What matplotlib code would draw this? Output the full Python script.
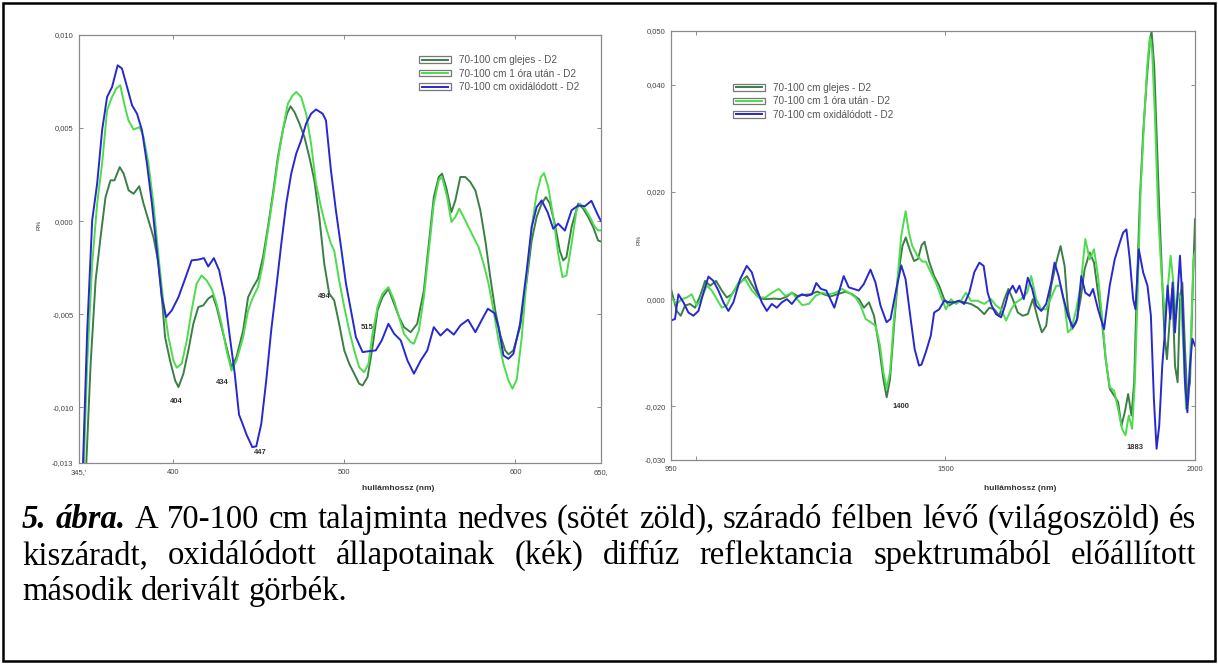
import matplotlib

matplotlib.use("Agg")
import matplotlib.pyplot as plt
from matplotlib.legend_handler import HandlerBase
from matplotlib.lines import Line2D
from matplotlib.patches import Rectangle

# ---- data: left panel (345-650 nm) ----
vis_blue_x = [347.0, 349.8, 352.7, 355.6, 358.5, 361.4, 364.3, 367.6, 370.1, 373.1, 376.0, 378.9, 381.8, 384.7,
              387.6, 390.5, 393.4, 395.9, 399.2, 403.1, 407.0, 410.8, 414.7, 418.0, 420.5, 423.8, 426.9, 430.2,
              433.1, 436.0, 438.5, 441.0, 443.0, 446.3, 448.6, 451.5, 454.4, 457.3, 460.3, 463.2, 466.1, 469.0,
              471.9, 474.8, 477.7, 480.6, 483.5, 487.4, 489.3, 492.2, 495.1, 498.1, 501.0, 503.9, 506.8, 510.7,
              514.5, 518.4, 521.9, 525.8, 529.1, 533.0, 536.9, 540.7, 544.6, 548.5, 552.3, 556.2, 560.1, 564.0,
              567.9, 572.3, 576.6, 580.4, 583.9, 587.8, 590.1, 593.0, 595.9, 598.8, 602.7, 606.6, 609.5, 612.4,
              615.3, 618.8, 622.1, 625.0, 628.9, 632.8, 636.7, 640.6, 644.4, 648.3, 650.0]
vis_blue_y = [-0.0140, -0.00588, 0.00004, 0.00201, 0.00488, 0.00667, 0.00720, 0.00837, 0.00820, 0.00720, 0.00622,
              0.00577, 0.00488, 0.00309, 0.00094, -0.00158, -0.00409, -0.00516, -0.00480, -0.00409, -0.00310,
              -0.00211, -0.00207, -0.00199, -0.00244, -0.00199, -0.00265, -0.00409, -0.00620, -0.00820, -0.01040,
              -0.01100, -0.01150, -0.01215, -0.01210, -0.01090, -0.00857, -0.00588, -0.00355, -0.00122, 0.00094,
              0.00255, 0.00362, 0.00434, 0.00524, 0.00577, 0.00600, 0.00577, 0.00541, 0.00273, 0.00058, -0.00140,
              -0.00337, -0.00480, -0.00624, -0.00704, -0.00699, -0.00695, -0.00641, -0.00552, -0.00605, -0.00641,
              -0.00749, -0.00820, -0.00750, -0.00695, -0.00570, -0.00615, -0.00580, -0.00610, -0.00560, -0.00530,
              -0.00597, -0.00530, -0.00471, -0.00495, -0.00570, -0.00722, -0.00740, -0.00713, -0.00552, -0.00265,
              -0.00032, 0.00075, 0.00111, 0.00048, -0.00041, -0.00014, -0.00051, 0.00058, 0.00084, 0.00080,
              0.00109, 0.00030, 0.00000]

vis_dark_x = [348.8, 351.8, 354.7, 357.6, 360.5, 363.4, 365.7, 368.8, 371.1, 374.0, 376.9, 380.2, 382.7, 385.6,
              388.5, 391.5, 393.4, 395.3, 398.2, 401.2, 403.1, 406.0, 408.9, 411.8, 414.7, 417.6, 420.5, 423.1,
              425.4, 428.3, 431.2, 434.1, 437.0, 440.9, 443.8, 446.7, 449.6, 452.5, 455.4, 458.3, 461.2, 464.1,
              466.5, 468.6, 470.9, 473.8, 476.7, 479.6, 482.5, 485.4, 488.3, 491.2, 494.1, 497.0, 500.0, 502.9,
              505.8, 508.7, 510.7, 513.6, 516.5, 519.4, 522.3, 525.8, 529.1, 532.0, 534.9, 538.8, 542.6, 546.5,
              549.4, 552.3, 555.2, 557.1, 559.5, 562.6, 564.9, 567.8, 570.7, 573.6, 576.6, 579.5, 582.4, 585.3,
              588.2, 591.1, 594.0, 595.9, 598.8, 602.7, 606.6, 609.5, 612.4, 615.3, 617.8, 620.1, 623.0, 625.9,
              627.9, 629.8, 632.8, 636.7, 639.6, 642.5, 645.4, 648.3, 650.0]
vis_dark_y = [-0.0140, -0.00767, -0.00319, -0.00086, 0.00129, 0.00219, 0.00219, 0.00290, 0.00255, 0.00165, 0.00147,
              0.00187, 0.00094, 0.00004, -0.00086, -0.00229, -0.00409, -0.00624, -0.00750, -0.00857, -0.00892,
              -0.00820, -0.00695, -0.00552, -0.00462, -0.00453, -0.00417, -0.00400, -0.00462, -0.00570, -0.00677,
              -0.00785, -0.00731, -0.00588, -0.00409, -0.00355, -0.00310, -0.00194, -0.00032, 0.00147, 0.00344,
              0.00488, 0.00577, 0.00617, 0.00586, 0.00524, 0.00452, 0.00344, 0.00219, 0.00022, -0.00229, -0.00390,
              -0.00426, -0.00552, -0.00695, -0.00767, -0.00820, -0.00874, -0.00883, -0.00838, -0.00677, -0.00480,
              -0.00409, -0.00364, -0.00444, -0.00516, -0.00570, -0.00597, -0.00552, -0.00373, -0.00122, 0.00129,
              0.00237, 0.00255, 0.00183, 0.00048, 0.00111, 0.00237, 0.00237, 0.00210, 0.00165, 0.00058, -0.00104,
              -0.00301, -0.00480, -0.00610, -0.00695, -0.00716, -0.00695, -0.00570, -0.00319, -0.00104, 0.00022,
              0.00094, 0.00129, 0.00094, -0.00014, -0.00158, -0.00211, -0.00194, -0.00032, 0.00094, 0.00067,
              0.00022, -0.00032, -0.00104, -0.00110]

vis_light_x = [347.5, 349.8, 352.7, 355.6, 358.5, 361.4, 364.3, 366.8, 369.1, 371.4, 373.9, 376.9, 380.4, 382.7,
               385.6, 388.5, 391.5, 394.4, 397.3, 400.2, 402.1, 405.0, 408.0, 410.8, 413.7, 416.6, 419.6, 422.5,
               425.4, 428.3, 431.2, 434.1, 437.0, 440.9, 443.8, 446.7, 449.6, 452.5, 455.4, 458.3, 461.2, 464.1,
               467.0, 469.9, 471.9, 474.8, 477.7, 480.6, 483.5, 486.4, 489.3, 492.2, 494.1, 497.0, 500.0, 502.9,
               505.8, 508.7, 511.6, 514.1, 516.5, 519.4, 522.3, 525.8, 529.1, 532.0, 534.9, 538.8, 540.7, 543.6,
               546.5, 549.4, 552.3, 555.2, 557.1, 560.1, 562.6, 564.9, 567.2, 569.7, 572.6, 575.5, 578.5, 581.4,
               584.3, 587.2, 590.1, 593.0, 595.9, 598.3, 600.8, 603.7, 606.6, 609.5, 612.4, 614.9, 616.7, 619.2,
               622.1, 625.0, 627.5, 629.8, 632.8, 635.7, 637.6, 640.6, 643.5, 646.4, 648.3, 650.0]
vis_light_y = [-0.0140, -0.00767, -0.00229, 0.00094, 0.00309, 0.00595, 0.00667, 0.00712, 0.00730, 0.00631, 0.00541,
               0.00492, 0.00505, 0.00452, 0.00309, 0.00094, -0.00194, -0.00444, -0.00624, -0.00750, -0.00788,
               -0.00767, -0.00641, -0.00480, -0.00337, -0.00292, -0.00319, -0.00364, -0.00444, -0.00552, -0.00695,
               -0.00803, -0.00750, -0.00624, -0.00480, -0.00409, -0.00355, -0.00229, -0.00050, 0.00129, 0.00326,
               0.00488, 0.00631, 0.00676, 0.00694, 0.00667, 0.00577, 0.00416, 0.00201, 0.00075, -0.00032, -0.00122,
               -0.00158, -0.00319, -0.00462, -0.00588, -0.00695, -0.00785, -0.00812, -0.00767, -0.00606, -0.00462,
               -0.00390, -0.00355, -0.00426, -0.00516, -0.00606, -0.00650, -0.00659, -0.00588, -0.00409, -0.00158,
               0.00094, 0.00219, 0.00237, 0.00129, -0.00005, 0.00022, 0.00067, 0.00022, -0.00032, -0.00086,
               -0.00140, -0.00229, -0.00337, -0.00480, -0.00641, -0.00767, -0.00857, -0.00901, -0.00850, -0.00624,
               -0.00301, -0.00032, 0.00147, 0.00237, 0.00258, 0.00183, 0.00022, -0.00176, -0.00301, -0.00292,
               -0.00122, 0.00058, 0.00094, 0.00067, 0.00022, -0.00032, -0.00050, -0.00050]

vis_peaks = ["404", "434", "447", "494", "515"]
vis_peak_x = [402.0, 428.7, 451.0, 488.4, 513.6]
vis_peak_y = [-0.0097, -0.00866, -0.01242, -0.00403, -0.0057]

# ---- data: right panel (950-2000 nm) ----
nir_blue_x = [950.0, 958.0, 964.8, 974.9, 984.9, 994.9, 1005.0, 1015.0, 1025.0, 1035.0, 1045.0, 1055.0, 1065.0,
              1075.0, 1088.4, 1101.8, 1111.9, 1121.9, 1132.0, 1142.0, 1152.0, 1162.0, 1172.1, 1182.1, 1192.2,
              1202.2, 1212.3, 1222.3, 1232.4, 1241.1, 1250.5, 1261.2, 1269.3, 1277.3, 1286.0, 1296.1, 1306.1,
              1316.2, 1326.2, 1336.3, 1349.7, 1359.7, 1369.8, 1381.9, 1389.9, 1400.0, 1411.4, 1420.1, 1430.2,
              1438.2, 1447.0, 1452.0, 1460.6, 1470.6, 1477.3, 1487.4, 1497.4, 1507.5, 1517.5, 1527.6, 1537.6,
              1547.7, 1557.7, 1567.8, 1576.5, 1584.5, 1592.6, 1601.3, 1611.4, 1619.4, 1626.1, 1634.8, 1641.5,
              1648.2, 1656.9, 1665.0, 1673.7, 1681.7, 1691.8, 1701.8, 1711.9, 1718.6, 1726.6, 1735.3, 1745.4,
              1755.4, 1764.1, 1772.2, 1780.2, 1788.9, 1795.6, 1805.7, 1817.7, 1829.1, 1839.1, 1849.2, 1855.9,
              1862.6, 1869.3, 1876.0, 1880.7, 1887.4, 1896.1, 1904.8, 1911.6, 1917.6, 1923.0, 1928.3, 1934.4,
              1939.7, 1945.1, 1950.5, 1955.2, 1959.9, 1965.2, 1969.9, 1974.6, 1980.0, 1984.7, 1990.0, 1994.7,
              2000.0]
nir_blue_y = [-0.0040, -0.0037, 0.0009, -0.0006, -0.0025, -0.0031, -0.0022, 0.0012, 0.0042, 0.0034, 0.0016, -0.0006,
              -0.0022, -0.0006, 0.0037, 0.0062, 0.0050, 0.0019, -0.0006, -0.0022, -0.0009, -0.0016, -0.0006, 0.0000,
              -0.0009, 0.0003, 0.0009, 0.0006, 0.0009, 0.0030, 0.0019, 0.0016, 0.0000, -0.0016, 0.0012, 0.0043,
              0.0022, 0.0019, 0.0016, 0.0028, 0.0055, 0.0031, -0.0012, -0.0043, -0.0037, 0.0012, 0.0063, 0.0037,
              -0.0037, -0.0093, -0.0124, -0.0122, -0.0099, -0.0068, -0.0025, -0.0019, -0.0003, -0.0006, -0.0006,
              -0.0003, -0.0009, 0.0012, 0.0050, 0.0068, 0.0062, 0.0012, -0.0012, -0.0028, -0.0034, -0.0012, 0.0012,
              0.0025, 0.0012, 0.0025, 0.0000, 0.0040, 0.0019, -0.0012, -0.0022, -0.0009, 0.0031, 0.0068, 0.0043,
              0.0006, -0.0031, -0.0053, -0.0037, 0.0043, 0.0012, 0.0006, 0.0019, -0.0019, -0.0056, 0.0025, 0.0074,
              0.0105, 0.0124, 0.0130, 0.0074, 0.0000, -0.0019, 0.0093, 0.0050, 0.0025, -0.0031, -0.0186, -0.0279,
              -0.0236, -0.0124, -0.0062, 0.0025, -0.0037, 0.0031, -0.0062, 0.0012, 0.0081, 0.0000, -0.0155, -0.0211,
              -0.0124, -0.0074, -0.0087]

nir_dark_x = [950.0, 961.4, 969.4, 978.1, 988.2, 998.2, 1008.3, 1018.3, 1028.4, 1040.4, 1051.8, 1061.8, 1071.9,
              1085.3, 1102.0, 1115.5, 1128.9, 1142.3, 1155.7, 1169.1, 1182.5, 1192.6, 1202.6, 1216.0, 1229.4,
              1242.8, 1256.2, 1269.6, 1283.0, 1299.8, 1313.2, 1326.6, 1336.7, 1346.7, 1356.8, 1366.8, 1375.5,
              1382.2, 1388.9, 1396.9, 1405.0, 1413.7, 1420.4, 1429.1, 1437.1, 1445.0, 1452.0, 1458.0, 1467.3,
              1477.3, 1487.4, 1497.4, 1507.5, 1517.5, 1527.6, 1537.6, 1551.0, 1564.4, 1577.8, 1587.9, 1597.9,
              1608.0, 1618.0, 1626.1, 1634.8, 1644.9, 1654.9, 1665.0, 1675.0, 1685.1, 1693.1, 1701.8, 1711.9,
              1721.9, 1730.6, 1738.7, 1745.4, 1753.4, 1762.1, 1770.8, 1778.9, 1788.9, 1797.6, 1805.7, 1813.7,
              1821.1, 1829.1, 1837.9, 1845.9, 1852.6, 1859.3, 1866.0, 1872.7, 1878.1, 1882.8, 1889.5, 1896.1,
              1902.9, 1909.6, 1913.0, 1918.3, 1923.0, 1927.7, 1933.1, 1938.5, 1943.8, 1949.9, 1954.6, 1959.9,
              1965.2, 1969.9, 1974.6, 1980.0, 1984.7, 1990.0, 1994.7, 2000.0]
nir_dark_y = [0.0019, -0.0022, -0.0031, -0.0012, -0.0009, -0.0016, 0.0006, 0.0034, 0.0025, 0.0034, 0.0016, 0.0003,
              0.0009, 0.0028, 0.0043, 0.0022, 0.0001, 0.0000, 0.0001, 0.0000, 0.0005, 0.0012, 0.0006, 0.0008,
              0.0009, 0.0014, 0.0009, 0.0005, 0.0009, 0.0014, 0.0009, 0.0000, -0.0016, -0.0006, -0.0031, -0.0087,
              -0.0149, -0.0183, -0.0149, -0.0050, 0.0043, 0.0099, 0.0115, 0.0090, 0.0071, 0.0075, 0.0100, 0.0107,
              0.0070, 0.0043, 0.0025, 0.0000, -0.0012, -0.0006, -0.0003, -0.0006, -0.0009, -0.0016, -0.0028,
              -0.0016, -0.0019, -0.0031, 0.0000, 0.0019, 0.0000, -0.0025, -0.0031, -0.0028, 0.0000, -0.0037,
              -0.0062, -0.0050, 0.0025, 0.0068, 0.0099, 0.0062, -0.0019, -0.0056, -0.0043, 0.0000, 0.0056, 0.0087,
              0.0068, 0.0012, -0.0043, -0.0112, -0.0167, -0.0180, -0.0192, -0.0236, -0.0211, -0.0177, -0.0217,
              -0.0155, 0.0000, 0.0186, 0.0310, 0.0403, 0.0484, 0.0499, 0.0434, 0.0310, 0.0186, 0.0062, -0.0062,
              -0.0112, -0.0031, 0.0019, -0.0124, -0.0155, 0.0000, 0.0031, -0.0093, -0.0186, -0.0155, 0.0000, 0.0149]

nir_light_x = [950.0, 961.4, 971.4, 981.5, 991.5, 1001.6, 1011.6, 1021.7, 1031.7, 1041.8, 1051.8, 1061.8, 1071.9,
               1085.3, 1098.7, 1112.1, 1125.5, 1139.0, 1152.4, 1165.8, 1179.2, 1192.6, 1202.6, 1212.7, 1226.1,
               1239.5, 1252.9, 1266.3, 1279.7, 1293.1, 1306.5, 1319.9, 1330.0, 1340.0, 1350.0, 1360.1, 1368.8,
               1375.5, 1382.2, 1388.9, 1396.9, 1405.0, 1411.4, 1420.1, 1426.8, 1433.5, 1443.6, 1453.6, 1460.6,
               1470.6, 1480.7, 1490.7, 1500.8, 1510.9, 1520.9, 1531.0, 1541.0, 1551.0, 1564.4, 1577.8, 1591.2,
               1601.3, 1611.4, 1621.4, 1631.5, 1641.5, 1651.6, 1663.7, 1671.7, 1681.7, 1691.8, 1701.8, 1711.9,
               1721.9, 1730.6, 1738.7, 1745.4, 1752.1, 1762.1, 1770.8, 1780.2, 1788.9, 1797.6, 1805.7, 1813.7,
               1821.1, 1829.1, 1837.9, 1845.9, 1853.9, 1860.6, 1867.3, 1874.0, 1879.4, 1884.8, 1890.8, 1897.5,
               1904.2, 1909.6, 1914.3, 1919.7, 1926.4, 1933.1, 1939.8, 1946.5, 1951.2, 1956.6, 1961.3, 1966.7,
               1972.0, 1976.7, 1982.1, 1986.8, 1992.2, 1996.9, 2000.0]
nir_light_y = [0.0003, -0.0009, 0.0000, 0.0003, 0.0009, -0.0012, 0.0003, 0.0025, 0.0016, 0.0000, -0.0016, -0.0012,
               0.0009, 0.0031, 0.0037, 0.0016, 0.0003, 0.0003, 0.0012, 0.0019, 0.0006, 0.0012, 0.0000, -0.0011,
               -0.0009, 0.0006, 0.0012, 0.0009, 0.0012, 0.0019, 0.0012, 0.0003, -0.0012, -0.0037, -0.0043, -0.0050,
               -0.0087, -0.0136, -0.0167, -0.0136, -0.0037, 0.0050, 0.0118, 0.0164, 0.0124, 0.0099, 0.0081, 0.0070,
               0.0070, 0.0050, 0.0031, 0.0006, -0.0019, 0.0000, -0.0009, -0.0003, 0.0012, -0.0003, -0.0003, -0.0009,
               0.0000, -0.0012, -0.0019, -0.0040, -0.0019, -0.0006, 0.0000, 0.0012, 0.0043, 0.0000, -0.0019, -0.0019,
               0.0003, 0.0025, 0.0025, -0.0012, -0.0062, -0.0056, -0.0019, 0.0025, 0.0112, 0.0074, 0.0093, 0.0043,
               -0.0031, -0.0112, -0.0164, -0.0171, -0.0205, -0.0242, -0.0254, -0.0217, -0.0242, -0.0155, 0.0000,
               0.0198, 0.0322, 0.0434, 0.0489, 0.0459, 0.0341, 0.0155, 0.0043, -0.0031, 0.0031, 0.0081, 0.0031,
               -0.0031, 0.0012, 0.0000, -0.0093, -0.0205, -0.0186, -0.0062, 0.0074, 0.0087]

nir_peaks = ["1400", "1883"]
nir_peak_x = [1411.7, 1879.3]
nir_peak_y = [-0.0201, -0.0276]

series_labels = ["70-100 cm glejes - D2", "70-100 cm 1 óra után - D2", "70-100 cm oxidálódott - D2"]
series_colors = ["#3b7f46", "#4cdc4c", "#2828d0"]

vis_yticks = [-0.013, -0.010, -0.005, 0.000, 0.005, 0.010]
vis_yticklabels = ["-0,013", "-0,010", "-0,005", "0,000", "0,005", "0,010"]
vis_xticks = [345, 400, 500, 600, 650]
vis_xticklabels = ["345,'", "400", "500", "600", "650,"]
nir_yticks = [-0.030, -0.020, 0.000, 0.020, 0.040, 0.050]
nir_yticklabels = ["-0,030", "-0,020", "0,000", "0,020", "0,040", "0,050"]
nir_xticks = [950, 1000, 1500, 2000]
nir_xticklabels = ["950", "", "1500", "2000"]

caption_lines = [
    [("5.", True), ("ábra.", True)] + [(w, False) for w in
     "A 70-100 cm talajminta nedves (sötét zöld), száradó félben lévő (világoszöld) és".split()],
    [(w, False) for w in
     "kiszáradt, oxidálódott állapotainak (kék) diffúz reflektancia spektrumából előállított".split()],
    [(w, False) for w in "második derivált görbék.".split()],
]

W, H = 1218, 664
TICK_GREY = "#8a8a8a"
TEXT_GREY = "#444444"


class BoxLineHandler(HandlerBase):
    def create_artists(self, legend, orig_handle, xdescent, ydescent, width, height, fontsize, trans):
        x0, y0 = -xdescent, -ydescent
        box = Rectangle((x0, y0 + height * 0.05), width, height * 0.9, facecolor="white",
                        edgecolor="#777777", linewidth=0.9, transform=trans)
        line = Line2D([x0 + 2, x0 + width - 2], [y0 + height * 0.5] * 2,
                      color=orig_handle.get_color(), linewidth=1.4, transform=trans)
        return [box, line]


def style_axes(ax, xticks, xlabels, yticks, ylabels):
    ax.set_xticks(xticks)
    ax.set_xticklabels(xlabels)
    ax.set_yticks(yticks)
    ax.set_yticklabels(ylabels)
    ax.tick_params(direction="in", length=3, width=0.7, color=TICK_GREY, top=True, right=True,
                   labelsize=5.5, labelcolor=TEXT_GREY, pad=4)
    for lab in ax.get_xticklabels() + ax.get_yticklabels():
        lab.set_family("Liberation Sans")
    for sp in ax.spines.values():
        sp.set_color(TICK_GREY)
        sp.set_linewidth(0.9)


fig = plt.figure(figsize=(W / 100, H / 100), dpi=100)

ax1 = fig.add_axes([79 / W, 1 - 463 / H, 522 / W, 428 / H])
ax2 = fig.add_axes([671 / W, 1 - 460 / H, 524 / W, 429 / H])

for ax, xs, ys in [
    (ax1, [vis_dark_x, vis_light_x, vis_blue_x], [vis_dark_y, vis_light_y, vis_blue_y]),
    (ax2, [nir_dark_x, nir_light_x, nir_blue_x], [nir_dark_y, nir_light_y, nir_blue_y]),
]:
    for x, y, c, lab in zip(xs, ys, series_colors, series_labels):
        ax.plot(x, y, color=c, linewidth=1.4, label=lab, solid_joinstyle="round")

ax1.set_xlim(345, 650)
ax1.set_ylim(-0.013, 0.010)
ax2.set_xlim(950, 2000)
ax2.set_ylim(-0.030, 0.050)

style_axes(ax1, vis_xticks, vis_xticklabels, vis_yticks, vis_yticklabels)
style_axes(ax2, nir_xticks, nir_xticklabels, nir_yticks, nir_yticklabels)

for lab, x, y in zip(vis_peaks, vis_peak_x, vis_peak_y):
    ax1.text(x, y, lab, fontsize=5.5, fontweight="bold", color="#333333", ha="center", va="center",
             family="Liberation Sans")
for lab, x, y in zip(nir_peaks, nir_peak_x, nir_peak_y):
    ax2.text(x, y, lab, fontsize=5.5, fontweight="bold", color="#333333", ha="center", va="center",
             family="Liberation Sans")

for ax, anchor in [(ax1, (0.651, 0.953)), (ax2, (0.118, 0.879))]:
    leg = ax.legend(loc="upper left", bbox_to_anchor=anchor, frameon=False,
                    handler_map={Line2D: BoxLineHandler()}, handlelength=3.2, handleheight=0.75,
                    handletextpad=0.8, labelspacing=0.35, borderpad=0, borderaxespad=0,
                    prop={"family": "Liberation Sans", "size": 7.2})
    for t in leg.get_texts():
        t.set_color("#555555")

for ax, (xp, yp) in [(ax1, (39, 225)), (ax2, (639, 240))]:
    fig.text(xp / W, 1 - yp / H, "R%", rotation=90, fontsize=4.5, color=TEXT_GREY,
             ha="center", va="center", family="Liberation Sans")

for xp in (398, 1020):
    fig.text(xp / W, 1 - 489 / H, "hullámhossz (nm)", fontsize=6, fontweight="bold", color="#333333",
             ha="center", va="center", family="Liberation Sans")

# figure frame
fig.patches.append(Rectangle((3 / W, 3 / H), (W - 6) / W, (H - 6) / H, transform=fig.transFigure,
                             fill=False, edgecolor="black", linewidth=1.8))

# justified caption
renderer = fig.canvas.get_renderer()
cap_size = 23.5
x_left, x_right = 22, 1196
baselines = [528, 564, 600]
probe = fig.text(0, 0, "n n", fontsize=cap_size, family="Liberation Serif")
probe2 = fig.text(0, 0, "nn", fontsize=cap_size, family="Liberation Serif")
space_w = probe.get_window_extent(renderer).width - probe2.get_window_extent(renderer).width
probe.remove()
probe2.remove()

for i, (words, base) in enumerate(zip(caption_lines, baselines)):
    texts = []
    for w, bold in words:
        kw = dict(fontweight="bold", style="italic") if bold else {}
        texts.append(fig.text(0, 1 - base / H, w, fontsize=cap_size, family="Liberation Serif",
                              va="baseline", ha="left", color="black", **kw))
    widths = [t.get_window_extent(renderer).width for t in texts]
    if i < len(caption_lines) - 1:
        gap = (x_right - x_left - sum(widths)) / (len(texts) - 1)
    else:
        gap = space_w
    x = x_left
    for t, w in zip(texts, widths):
        t.set_x(x / W)
        x += w + gap

fig.savefig("out.png", dpi=100)
plt.close(fig)
